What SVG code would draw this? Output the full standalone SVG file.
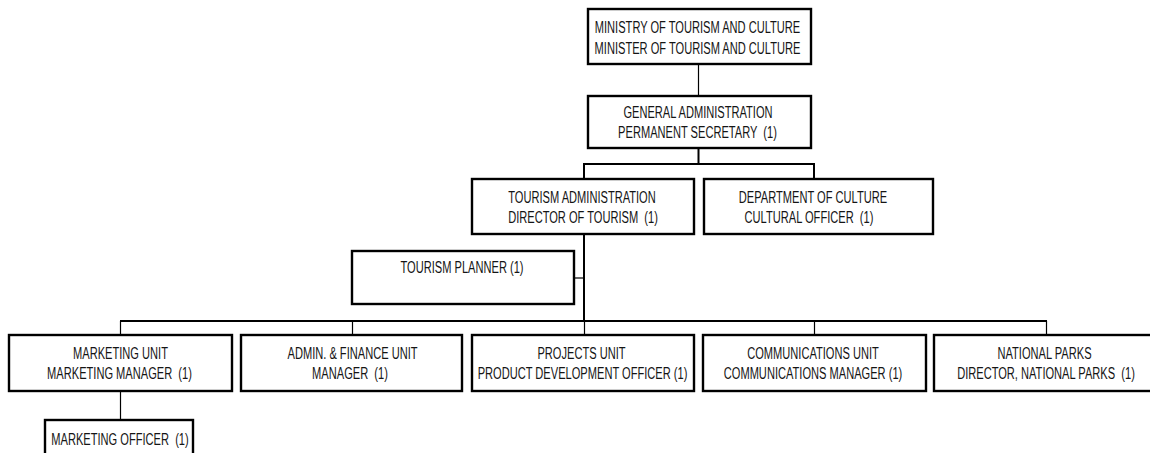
<svg xmlns="http://www.w3.org/2000/svg" width="1150" height="453" viewBox="0 0 1150 453">
<style>
.box{fill:#fff;stroke:#000;stroke-width:2.4}
.t{font-family:"Liberation Sans",Arial,sans-serif;font-size:17px;fill:#151515;text-anchor:middle;white-space:pre}
.c{fill:none;stroke:#000;stroke-width:1.2}
.bus{fill:none;stroke:#000;stroke-width:2}
</style>
<rect width="1150" height="453" fill="#fff"/>
<g id="connectors">
<line class="c" x1="698.5" y1="64" x2="698.5" y2="96"/>
<line class="bus" x1="698.5" y1="148" x2="698.5" y2="164"/>
<polyline class="bus" points="584,179 584,164 814,164 814,179"/>
<line class="bus" x1="584" y1="234" x2="584" y2="321"/>
<line class="c" x1="574" y1="278" x2="584" y2="278"/>
<line class="bus" x1="120" y1="321" x2="1047" y2="321"/>
<line class="c" x1="120.5" y1="321" x2="120.5" y2="335"/>
<line class="c" x1="352.5" y1="321" x2="352.5" y2="335"/>
<line class="c" x1="584.5" y1="321" x2="584.5" y2="335"/>
<line class="c" x1="814.5" y1="321" x2="814.5" y2="335"/>
<line class="c" x1="1046.5" y1="321" x2="1046.5" y2="335"/>
<line class="c" x1="120.5" y1="391" x2="120.5" y2="420"/>
</g>
<g id="ministry">
<rect class="box" x="588" y="9" width="223" height="55"/>
<text class="t" transform="translate(697.5 32.5) scale(0.653 1)">MINISTRY OF TOURISM AND CULTURE</text>
<text class="t" transform="translate(697.5 53.5) scale(0.653 1)">MINISTER OF TOURISM AND CULTURE</text>
</g>
<g id="general-admin">
<rect class="box" x="588" y="96" width="223" height="52"/>
<text class="t" transform="translate(698 117.5) scale(0.653 1)">GENERAL ADMINISTRATION</text>
<text class="t" transform="translate(697.5 137.5) scale(0.653 1)">PERMANENT SECRETARY  (1)</text>
</g>
<g id="tourism-admin">
<rect class="box" x="472" y="179" width="222" height="55"/>
<text class="t" transform="translate(582 202.5) scale(0.653 1)">TOURISM ADMINISTRATION</text>
<text class="t" transform="translate(583 222.5) scale(0.653 1)">DIRECTOR OF TOURISM  (1)</text>
</g>
<g id="dept-culture">
<rect class="box" x="704" y="179" width="229" height="55"/>
<text class="t" transform="translate(813 202.5) scale(0.653 1)">DEPARTMENT OF CULTURE</text>
<text class="t" transform="translate(809 222.5) scale(0.653 1)">CULTURAL OFFICER  (1)</text>
</g>
<g id="tourism-planner">
<rect class="box" x="352" y="251" width="222" height="53"/>
<text class="t" transform="translate(462 272.5) scale(0.653 1)">TOURISM PLANNER (1)</text>
</g>
<g id="marketing-unit">
<rect class="box" x="9" y="335" width="223" height="56"/>
<text class="t" transform="translate(120.5 358.5) scale(0.653 1)">MARKETING UNIT</text>
<text class="t" transform="translate(119.5 378.5) scale(0.653 1)">MARKETING MANAGER  (1)</text>
</g>
<g id="admin-finance">
<rect class="box" x="241" y="335" width="221" height="56"/>
<text class="t" transform="translate(352.5 358.5) scale(0.653 1)">ADMIN. &amp; FINANCE UNIT</text>
<text class="t" transform="translate(350 378.5) scale(0.653 1)">MANAGER  (1)</text>
</g>
<g id="projects-unit">
<rect class="box" x="472" y="335" width="222" height="56"/>
<text class="t" transform="translate(581.5 358.5) scale(0.653 1)">PROJECTS UNIT</text>
<text class="t" transform="translate(582.5 378.5) scale(0.653 1)">PRODUCT DEVELOPMENT OFFICER (1)</text>
</g>
<g id="communications-unit">
<rect class="box" x="703" y="335" width="223" height="56"/>
<text class="t" transform="translate(813 358.5) scale(0.653 1)">COMMUNICATIONS UNIT</text>
<text class="t" transform="translate(813 378.5) scale(0.653 1)">COMMUNICATIONS MANAGER (1)</text>
</g>
<g id="national-parks">
<rect class="box" x="934" y="335" width="220" height="56"/>
<text class="t" transform="translate(1044.5 358.5) scale(0.653 1)">NATIONAL PARKS</text>
<text class="t" transform="translate(1046 378.5) scale(0.653 1)">DIRECTOR, NATIONAL PARKS  (1)</text>
</g>
<g id="marketing-officer">
<rect class="box" x="45" y="420" width="148" height="40"/>
<text class="t" transform="translate(120 444.5) scale(0.653 1)">MARKETING OFFICER  (1)</text>
</g>
</svg>
